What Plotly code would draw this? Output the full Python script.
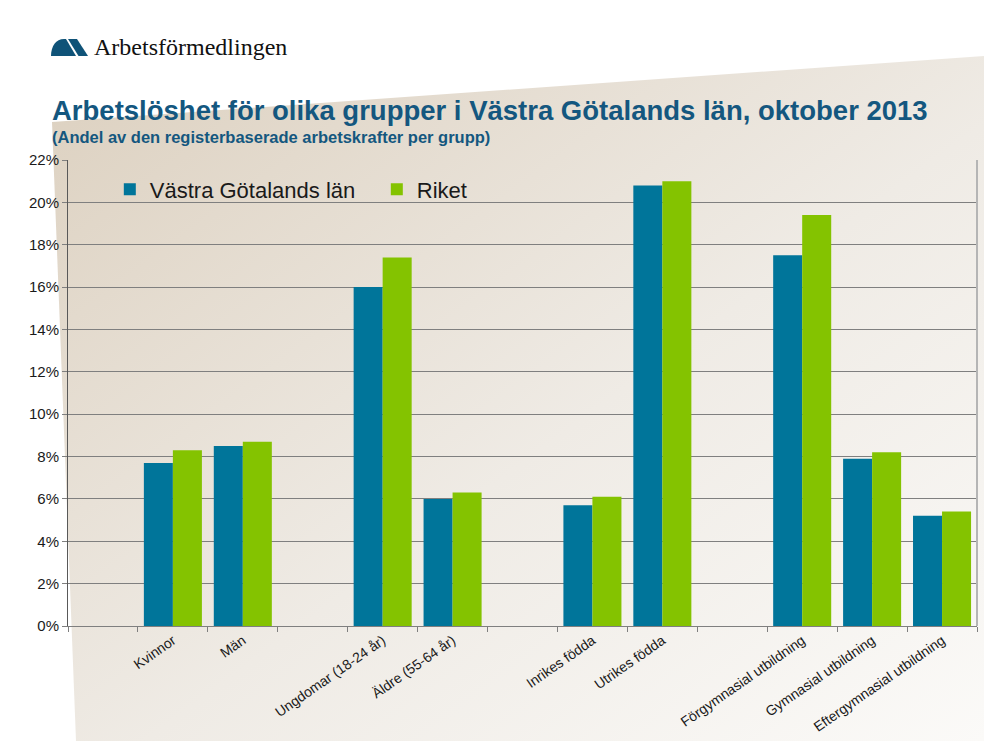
"""Arbetslöshet för olika grupper i Västra Götalands län, oktober 2013."""

from urllib.parse import quote

import plotly.graph_objects as go

# --- data ---

CATEGORIES = [
    " ", "Kvinnor", "Män",
    "  ", "Ungdomar (18-24 år)", "Äldre (55-64 år)",
    "   ", "Inrikes födda", "Utrikes födda",
    "    ", "Förgymnasial utbildning", "Gymnasial utbildning",
    "Eftergymnasial utbildning",
]
VASTRA_GOTALAND = [None, 7.7, 8.5, None, 16.0, 6.0, None, 5.7, 20.8, None, 17.5, 7.9, 5.2]
RIKET = [None, 8.3, 8.7, None, 17.4, 6.3, None, 6.1, 21.0, None, 19.4, 8.2, 5.4]
Y_TICKS = [0, 2, 4, 6, 8, 10, 12, 14, 16, 18, 20, 22]
Y_LABELS = [f"{v}%" for v in Y_TICKS]

# --- style ---

W, H = 984, 741
M_L, M_R, M_T, M_B = 68, 7, 160, 115
PW, PH = W - M_L - M_R, H - M_T - M_B

BLUE = "#00759a"
GREEN = "#84c300"
TITLE_COLOR = "#14577f"
GRID = "#7f7f7f"
FONT = "Liberation Sans, Arial, sans-serif"

# 背景: ベージュのグラデーション多角形 + ロゴのアイコン
svg = f"""<svg xmlns='http://www.w3.org/2000/svg' width='{W}' height='{H}' viewBox='0 0 {W} {H}'>
<defs><linearGradient id='g' x1='0' y1='0' x2='1' y2='1'>
<stop offset='0' stop-color='#dcd0bf'/><stop offset='0.55' stop-color='#efebe5'/>
<stop offset='1' stop-color='#fbfaf8'/></linearGradient></defs>
<polygon points='52,122 984,56 984,741 76,741' fill='url(#g)'/>
<path d='M51,56 C51,46 56,39 64,39 L66,39 L76,56 Z' fill='#0f5378'/>
<path d='M68,39 L77,39 L88,56 L78.5,56 Z' fill='#0f5378'/>
</svg>"""
bg_src = "data:image/svg+xml;charset=utf-8," + quote(svg)

fig = go.Figure()
fig.add_trace(go.Bar(x=CATEGORIES, y=VASTRA_GOTALAND, name="Västra Götalands län",
                     marker=dict(color=BLUE, line=dict(width=0))))
fig.add_trace(go.Bar(x=CATEGORIES, y=RIKET, name="Riket",
                     marker=dict(color=GREEN, line=dict(width=0))))

fig.update_layout(
    width=W, height=H,
    margin=dict(l=M_L, r=M_R, t=M_T, b=M_B, pad=0),
    paper_bgcolor="white",
    plot_bgcolor="rgba(0,0,0,0)",
    barmode="group", bargap=0.17, bargroupgap=0,
    font=dict(family=FONT, color="#1a1a1a"),
    showlegend=True,
    legend=dict(
        orientation="h", x=0.046, y=0.982, xanchor="left", yanchor="top",
        font=dict(size=22, color="#1a1a1a"), bgcolor="rgba(0,0,0,0)",
        entrywidth=222, itemwidth=30, traceorder="normal",
    ),
    xaxis=dict(
        type="category", categoryorder="array", categoryarray=CATEGORIES,
        tickson="boundaries", ticks="outside", ticklen=5, tickcolor=GRID,
        showline=True, linecolor=GRID, linewidth=1,
        tickangle=-35, tickfont=dict(size=14, color="#1a1a1a"),
        showgrid=False, range=[-0.5, len(CATEGORIES) - 0.5],
    ),
    yaxis=dict(
        range=[0, 22], tickvals=Y_TICKS, ticktext=Y_LABELS,
        ticks="outside", ticklen=5, tickcolor=GRID,
        showline=True, linecolor="#595959", linewidth=1,
        showgrid=True, gridcolor=GRID, gridwidth=1, zeroline=False,
        tickfont=dict(size=15, color="#1a1a1a"),
    ),
    images=[dict(
        source=bg_src, xref="paper", yref="paper",
        x=-M_L / PW, y=1 + M_T / PH, sizex=W / PW, sizey=H / PH,
        xanchor="left", yanchor="top", sizing="stretch", layer="below",
    )],
    shapes=[dict(type="line", xref="paper", yref="paper", x0=1, x1=1, y0=0, y1=1,
                 line=dict(color="#b5b5b5", width=2))],
    annotations=[
        dict(text="Arbetsförmedlingen", xref="paper", yref="paper",
             x=-(M_L - 92) / PW, y=1 + (M_T - 47) / PH, xanchor="left", yanchor="middle",
             showarrow=False,
             font=dict(family="Liberation Serif, DejaVu Serif, serif", size=24, color="#111111")),
        dict(text="<b>Arbetslöshet för olika grupper i Västra Götalands län, oktober 2013</b>",
             xref="paper", yref="paper",
             x=-(M_L - 50) / PW, y=1 + (M_T - 110) / PH, xanchor="left", yanchor="middle",
             showarrow=False, font=dict(family=FONT, size=27.5, color=TITLE_COLOR)),
        dict(text="<b>(Andel av den registerbaserade arbetskrafter per grupp)</b>",
             xref="paper", yref="paper",
             x=-(M_L - 50) / PW, y=1 + (M_T - 137) / PH, xanchor="left", yanchor="middle",
             showarrow=False, font=dict(family=FONT, size=16.5, color=TITLE_COLOR)),
    ],
)

fig.write_html("out.html", config={"displayModeBar": False},
               post_script="document.body.style.margin='0';")
